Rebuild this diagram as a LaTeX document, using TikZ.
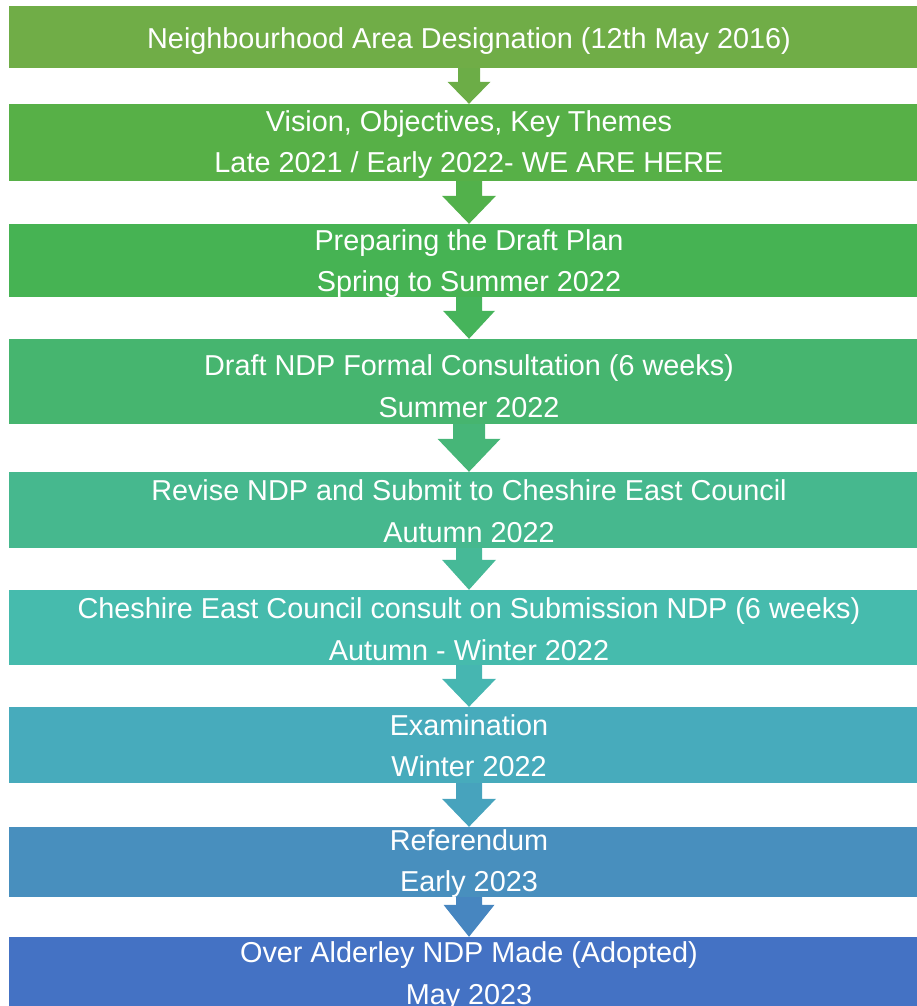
\documentclass[tikz,border=0pt]{standalone}
\usepackage{fontspec}
\setmainfont{Liberation Sans}
\usetikzlibrary{calc}
\definecolor{c1}{RGB}{112,173,71}
\definecolor{c2}{RGB}{87,176,71}
\definecolor{c3}{RGB}{70,179,83}
\definecolor{c4}{RGB}{70,181,111}
\definecolor{c5}{RGB}{70,184,142}
\definecolor{c6}{RGB}{70,187,173}
\definecolor{c7}{RGB}{71,171,188}
\definecolor{c8}{RGB}{72,143,190}
\definecolor{c9}{RGB}{68,114,196}
\newcommand\stagetext[2][2]{\raisebox{-#1pt}[\height][\depth]{\parbox{910pt}{\centering\fontsize{28.8}{41.5}\selectfont #2}}}
\tikzset{
  stage/.style={fill=#1, text=white, minimum width=920pt, inner sep=0pt},
}
\newcommand\stagearrow[6]{%
  \fill[#6] ($(#1.south)+(-#3,0)$) -- ($(#1.south)+(#3,0)$)
    -- ($(#2.north)+(#3,-#5)$) -- ($(#2.north)+(#4,-#5)$) -- (#2.north)
    -- ($(#2.north)+(-#4,-#5)$) -- ($(#2.north)+(-#3,-#5)$) -- cycle;}
\begin{document}
\begin{tikzpicture}[x=1pt,y=-1pt]
\useasboundingbox (0,0) rectangle (916,1006);
\node[stage=c1, minimum height=62pt] (s1) at (469,37) {\stagetext[4]{Neighbourhood Area Designation (12th May 2016)}};
\node[stage=c2, minimum height=77pt] (s2) at (469,142.5) {\stagetext[2]{Vision, Objectives, Key Themes\\Late 2021 / Early 2022- WE ARE HERE}};
\node[stage=c3, minimum height=73pt] (s3) at (469,260.5) {\stagetext[3]{Preparing the Draft Plan\\Spring to Summer 2022}};
\node[stage=c4, minimum height=85pt] (s4) at (469,381.5) {\stagetext[4.5]{Draft NDP Formal Consultation (6 weeks)\\Summer 2022}};
\node[stage=c5, minimum height=76pt] (s5) at (469,510) {\stagetext[1]{Revise NDP and Submit to Cheshire East Council\\Autumn 2022}};
\node[stage=c6, minimum height=75pt] (s6) at (469,627.5) {\stagetext[1.5]{Cheshire East Council consult on Submission NDP (6 weeks)\\Autumn - Winter 2022}};
\node[stage=c7, minimum height=76pt] (s7) at (469,745) {\stagetext[0.5]{Examination\\Winter 2022}};
\node[stage=c8, minimum height=70pt] (s8) at (469,862) {\stagetext[1.5]{Referendum\\Early 2023}};
\node[stage=c9, minimum height=76pt] (s9) at (469,975) {\stagetext[1]{Over Alderley NDP Made (Adopted)\\May 2023}};
\stagearrow{s1}{s2}{11}{21.5}{22}{c1!85!c2}
\stagearrow{s2}{s3}{13}{27}{28}{c2!70!c3}
\stagearrow{s3}{s4}{13}{26}{28}{c3!70!c4}
\stagearrow{s4}{s5}{16}{31.5}{33}{c4!70!c5}
\stagearrow{s5}{s6}{13}{27}{30}{c5!70!c6}
\stagearrow{s6}{s7}{13}{27}{28}{c6!70!c7}
\stagearrow{s7}{s8}{13}{27}{28}{c7!70!c8}
\stagearrow{s8}{s9}{13}{25.5}{32}{c8!70!c9}
\end{tikzpicture}
\end{document}
